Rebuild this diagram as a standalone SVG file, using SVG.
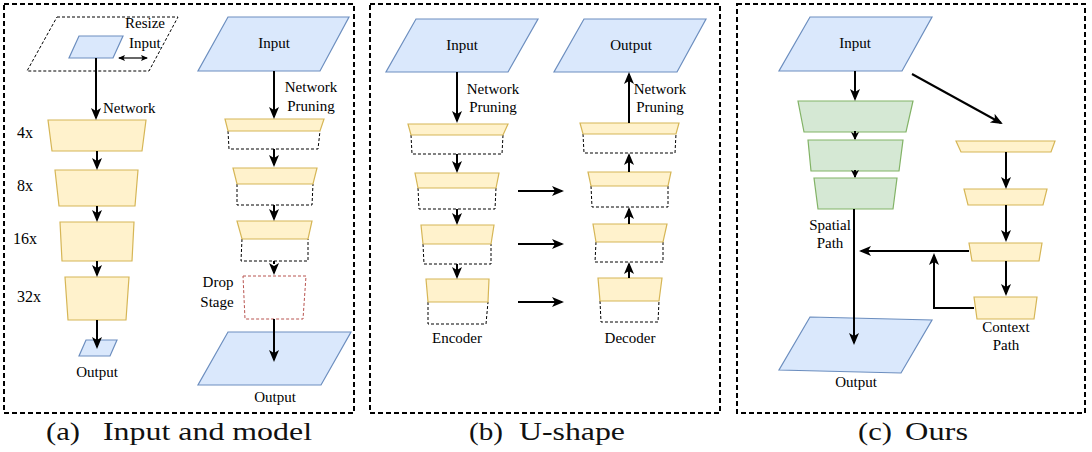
<svg xmlns="http://www.w3.org/2000/svg" width="1092" height="452" viewBox="0 0 1092 452">
  <style>
    .frame { fill: none; stroke: #000; stroke-width: 2; stroke-dasharray: 5 3; }
    .blue { fill: #dae8fc; stroke: #6c8ebf; stroke-width: 1.2; }
    .yellow { fill: #fff2cc; stroke: #d6b656; stroke-width: 1.2; }
    .green { fill: #d5e8d4; stroke: #82b366; stroke-width: 1.2; }
    .ghost { fill: none; stroke: #000; stroke-width: 1; stroke-dasharray: 3 2; }
    .drop { fill: none; stroke: #b85450; stroke-width: 1; stroke-dasharray: 3 2; }
    .lbl { font-family: 'Liberation Serif', 'Times New Roman', serif; font-size: 15px; fill: #000; }
    .scale { font-family: 'Liberation Serif', 'Times New Roman', serif; font-size: 16px; fill: #000; }
    .cap { font-family: 'Liberation Serif', 'Times New Roman', serif; font-size: 25px; fill: #111; }
    .mid { text-anchor: middle; }
    .edge { fill: none; stroke: #000; stroke-width: 2; marker-end: url(#head); }
    .edge-s { fill: none; stroke: #000; stroke-width: 2; marker-end: url(#headSmall); }
  </style>
  <defs>
    <marker id="head" markerUnits="userSpaceOnUse" markerWidth="14" markerHeight="12" refX="10" refY="5" orient="auto">
      <path d="M0,0 L12,5 L0,10 L3,5 Z" fill="#000"/>
    </marker>
    <marker id="headSmall" markerUnits="userSpaceOnUse" markerWidth="10" markerHeight="10" refX="7" refY="4" orient="auto">
      <path d="M0,0 L8,4 L0,8 L2,4 Z" fill="#000"/>
    </marker>
    <marker id="tiny" markerUnits="userSpaceOnUse" markerWidth="8" markerHeight="8" refX="6" refY="3" orient="auto-start-reverse">
      <path d="M0,0 L7,3 L0,6 L1.5,3 Z" fill="#000"/>
    </marker>
  </defs>

  <!-- panel frames -->
  <g id="frames">
    <rect class="frame" x="4" y="4" width="350" height="409"/>
    <rect class="frame" x="370" y="4" width="350" height="409"/>
    <rect class="frame" x="737" y="4" width="348" height="409"/>
  </g>

  <!-- (a) left column: resized input through the backbone -->
  <g id="a-resize">
    <polygon class="ghost" points="57,17 178,17 149,71 27,71"/>
    <text class="lbl" x="125" y="28">Resize</text>
    <text class="lbl" x="129" y="48">Input</text>
  </g>
  <g id="a-small-input">
    <polygon class="blue" points="79,36 123,36 113,58 69,58"/>
  </g>
  <g id="a-stage4">
    <polygon class="yellow" points="48,120 146,120 142,151 52,151"/>
    <text class="scale" x="17" y="138">4x</text>
  </g>
  <g id="a-stage8">
    <polygon class="yellow" points="55,170 138,170 135,206 59,206"/>
    <text class="scale" x="17" y="191">8x</text>
  </g>
  <g id="a-stage16">
    <polygon class="yellow" points="60,222 134,222 132,261 62,261"/>
    <text class="scale" x="13" y="244">16x</text>
  </g>
  <g id="a-stage32">
    <polygon class="yellow" points="65,277 129,277 126,320 68,320"/>
    <text class="scale" x="17" y="302">32x</text>
  </g>
  <g id="a-small-output">
    <polygon class="blue" points="86,340 117,340 110,356 79,356"/>
    <text class="lbl mid" x="97" y="377">Output</text>
  </g>

  <!-- (a) right column: pruned network -->
  <g id="a-input">
    <polygon class="blue" points="228,17 349,17 320,71 198,71"/>
    <text class="lbl mid" x="274" y="48">Input</text>
  </g>
  <g id="a-prune1">
    <polyline class="ghost" points="228,131 229,149 318,149 320,131"/>
    <polygon class="yellow" points="225,119 324,119 320,131 228,131"/>
  </g>
  <g id="a-prune2">
    <polyline class="ghost" points="237,184 237,205 312,205 313,184"/>
    <polygon class="yellow" points="233,168 317,168 313,184 237,184"/>
  </g>
  <g id="a-prune3">
    <polyline class="ghost" points="242,239 241,261 308,261 308,239"/>
    <polygon class="yellow" points="237,221 312,221 308,239 242,239"/>
  </g>
  <g id="a-drop">
    <polygon class="drop" points="243,276 306,276 303,319 245,319"/>
    <text class="lbl mid" x="218" y="287">Drop</text>
    <text class="lbl mid" x="217" y="307">Stage</text>
  </g>
  <g id="a-output">
    <polygon class="blue" points="228,332 351,332 321,385 198,385"/>
    <text class="lbl mid" x="275" y="402">Output</text>
  </g>

  <!-- (b) U-shape encoder / decoder -->
  <g id="b-input">
    <polygon class="blue" points="416,19 538,19 508,72 386,72"/>
    <text class="lbl mid" x="462" y="50">Input</text>
  </g>
  <g id="b-output">
    <polygon class="blue" points="584,19 706,19 677,72 554,72"/>
    <text class="lbl mid" x="631" y="50">Output</text>
  </g>
  <g id="b-enc1">
    <polyline class="ghost" points="411,135 412,154 502,154 503,135"/>
    <polygon class="yellow" points="408,124 508,124 503,135 411,135"/>
  </g>
  <g id="b-enc2">
    <polyline class="ghost" points="418,188 419,209 495,209 496,188"/>
    <polygon class="yellow" points="415,173 499,173 496,188 418,188"/>
  </g>
  <g id="b-enc3">
    <polyline class="ghost" points="423,244 424,264 491,264 491,244"/>
    <polygon class="yellow" points="421,225 494,225 491,244 423,244"/>
  </g>
  <g id="b-enc4">
    <polyline class="ghost" points="428,302 428,324 486,324 488,302"/>
    <polygon class="yellow" points="426,279 489,279 488,302 428,302"/>
    <text class="lbl mid" x="457" y="343">Encoder</text>
  </g>
  <g id="b-dec1">
    <polyline class="ghost" points="583,134 584,153 675,153 676,134"/>
    <polygon class="yellow" points="580,123 679,123 676,134 583,134"/>
  </g>
  <g id="b-dec2">
    <polyline class="ghost" points="591,186 592,207 668,207 668,186"/>
    <polygon class="yellow" points="588,172 671,172 668,186 591,186"/>
  </g>
  <g id="b-dec3">
    <polyline class="ghost" points="596,242 595,262 663,262 663,242"/>
    <polygon class="yellow" points="593,224 667,224 663,242 596,242"/>
  </g>
  <g id="b-dec4">
    <polyline class="ghost" points="600,301 601,322 658,322 659,301"/>
    <polygon class="yellow" points="598,278 662,278 659,301 600,301"/>
    <text class="lbl mid" x="630" y="343">Decoder</text>
  </g>

  <!-- (c) spatial path and context path -->
  <g id="c-input">
    <polygon class="blue" points="810,17 932,17 902,71 779,71"/>
    <text class="lbl mid" x="855" y="48">Input</text>
  </g>
  <g id="c-sp1"><polygon class="green" points="798,101 913,101 906,132 804,132"/></g>
  <g id="c-sp2"><polygon class="green" points="808,140 903,140 899,171 811,171"/></g>
  <g id="c-sp3">
    <polygon class="green" points="814,178 897,178 893,209 818,209"/>
    <text class="lbl mid" x="830" y="230">Spatial</text>
    <text class="lbl mid" x="830" y="248">Path</text>
  </g>
  <g id="c-output">
    <polygon class="blue" points="810,317 932,320 901,373 779,370"/>
    <text class="lbl mid" x="856" y="387">Output</text>
  </g>
  <g id="c-cx1"><polygon class="yellow" points="956,141 1055,141 1051,152 961,152"/></g>
  <g id="c-cx2"><polygon class="yellow" points="964,189 1047,189 1043,205 968,205"/></g>
  <g id="c-cx3"><polygon class="yellow" points="969,243 1042,243 1039,261 972,261"/></g>
  <g id="c-cx4">
    <polygon class="yellow" points="974,297 1037,297 1034,319 977,319"/>
    <text class="lbl mid" x="1006" y="332">Context</text>
    <text class="lbl mid" x="1006" y="350">Path</text>
  </g>

  <!-- connectors -->
  <g id="connectors">
    <!-- (a) left -->
    <line x1="119" y1="58" x2="147" y2="58" stroke="#000" stroke-width="1.2" marker-start="url(#tiny)" marker-end="url(#tiny)"/>
    <line class="edge" x1="96" y1="58" x2="96" y2="118"/>
    <line class="edge" x1="97" y1="151" x2="97" y2="168"/>
    <line class="edge" x1="97" y1="206" x2="97" y2="220"/>
    <line class="edge" x1="97" y1="261" x2="97" y2="275"/>
    <line class="edge" x1="97" y1="320" x2="97" y2="347"/>
    <text class="lbl" x="103" y="113">Network</text>
    <!-- (a) right -->
    <line class="edge" x1="274" y1="71" x2="274" y2="117"/>
    <text class="lbl mid" x="311" y="92">Network</text>
    <text class="lbl mid" x="311" y="111">Pruning</text>
    <line class="edge" x1="274" y1="149" x2="274" y2="165"/>
    <line class="edge" x1="274" y1="205" x2="274" y2="219"/>
    <line class="edge" x1="274" y1="261" x2="274" y2="273" stroke-dasharray="3 2"/>
    <line class="edge" x1="274" y1="319" x2="274" y2="360"/>
    <!-- (b) encoder -->
    <line class="edge" x1="457" y1="72" x2="457" y2="121"/>
    <text class="lbl mid" x="493" y="94">Network</text>
    <text class="lbl mid" x="493" y="112">Pruning</text>
    <line class="edge" x1="457" y1="154" x2="457" y2="171"/>
    <line class="edge" x1="457" y1="209" x2="457" y2="223"/>
    <line class="edge" x1="457" y1="264" x2="457" y2="277"/>
    <!-- (b) skips -->
    <line class="edge" x1="518" y1="191" x2="562" y2="191"/>
    <line class="edge" x1="518" y1="244" x2="562" y2="244"/>
    <line class="edge" x1="518" y1="302" x2="562" y2="302"/>
    <!-- (b) decoder -->
    <line class="edge" x1="629" y1="123" x2="629" y2="74"/>
    <text class="lbl mid" x="660" y="94">Network</text>
    <text class="lbl mid" x="660" y="112">Pruning</text>
    <line class="edge" x1="629" y1="172" x2="629" y2="155"/>
    <line class="edge" x1="629" y1="224" x2="629" y2="209"/>
    <line class="edge" x1="629" y1="278" x2="629" y2="264"/>
    <!-- (c) spatial -->
    <line class="edge" x1="855" y1="71" x2="855" y2="99"/>
    <line class="edge-s" x1="855" y1="131" x2="855" y2="139"/>
    <line class="edge-s" x1="855" y1="170" x2="855" y2="177"/>
    <line class="edge" x1="854" y1="209" x2="854" y2="343"/>
    <!-- (c) context -->
    <line class="edge" x1="912" y1="74" x2="1001" y2="123"/>
    <line class="edge" x1="1006" y1="152" x2="1006" y2="187"/>
    <line class="edge" x1="1006" y1="205" x2="1006" y2="240"/>
    <line class="edge" x1="1006" y1="261" x2="1006" y2="294"/>
    <line class="edge" x1="969" y1="251" x2="861" y2="251"/>
    <polyline class="edge" points="974,308 934,308 934,255"/>
  </g>

  <!-- captions -->
  <g id="captions">
    <text class="cap" x="46" y="440" textLength="34" lengthAdjust="spacingAndGlyphs">(a)</text>
    <text class="cap" x="103" y="440" textLength="209" lengthAdjust="spacingAndGlyphs">Input and model</text>
    <text class="cap" x="469" y="440" textLength="34" lengthAdjust="spacingAndGlyphs">(b)</text>
    <text class="cap" x="519" y="440" textLength="106" lengthAdjust="spacingAndGlyphs">U-shape</text>
    <text class="cap" x="858" y="440" textLength="34" lengthAdjust="spacingAndGlyphs">(c)</text>
    <text class="cap" x="905" y="440" textLength="63" lengthAdjust="spacingAndGlyphs">Ours</text>
  </g>
</svg>
